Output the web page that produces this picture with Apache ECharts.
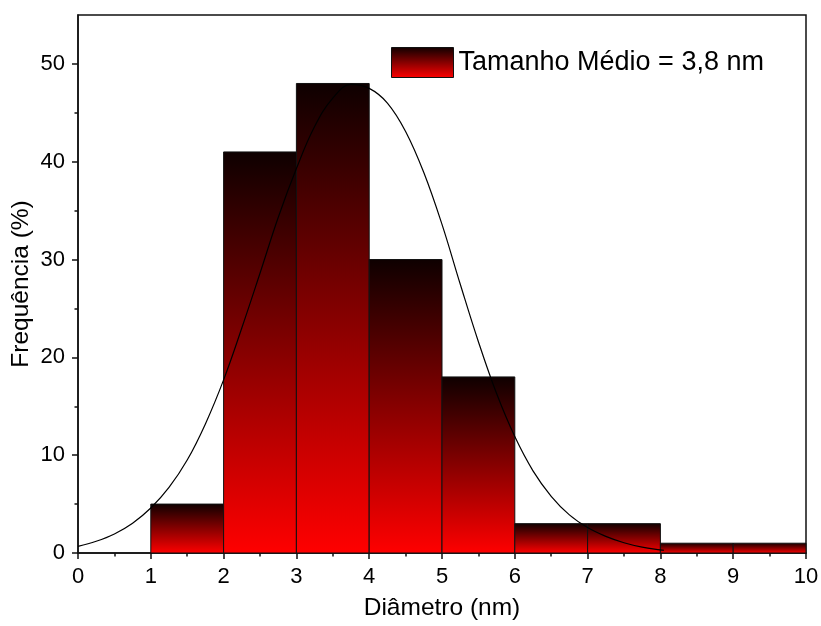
<!DOCTYPE html>
<html><head><meta charset="utf-8">
<script src="https://cdn.jsdelivr.net/npm/echarts@6/dist/echarts.min.js"></script>
<style>html,body{margin:0;padding:0;background:#fff}#c{width:821px;height:626px}</style>
</head><body><div id="c"></div>
<script>
// ---- data ----
const binStarts = [1, 2, 3, 4, 5, 6, 7, 8, 9];
const binEnds   = [2, 3, 4, 5, 6, 7, 8, 9, 10];
const frequencies = [5, 41, 48, 30, 18, 3, 3, 1, 1];
const fitX = [0, 0.25, 0.5, 0.75, 1, 1.25, 1.5, 1.75, 2, 2.25, 2.5, 2.75, 3, 3.25, 3.5, 3.75, 4, 4.25, 4.5, 4.75, 5, 5.25, 5.5, 5.75, 6, 6.25, 6.5, 6.75, 7, 7.25, 7.5, 7.75, 8, 8.05];
const fitY = [0.68, 1.2, 1.95, 3.05, 4.6, 6.7, 9.5, 13.2, 17.7, 23.0, 28.6, 34.3, 39.3, 43.6, 46.5, 47.9, 47.5, 46.0, 43.1, 38.9, 33.6, 27.5, 21.6, 16.3, 11.9, 8.4, 5.8, 3.9, 2.6, 1.7, 1.05, 0.6, 0.32, 0.28];
const yTickValues = [0, 10, 20, 30, 40, 50];
const yMinorTickValues = [5, 15, 25, 35, 45];
const legendLabel = 'Tamanho Médio = 3,8 nm';
const xTitle = 'Diâmetro (nm)';
const yTitle = 'Frequência (%)';

// ---- chart ----
const FONT = 'Arial, "Liberation Sans", sans-serif';
const makeGrad = () => new echarts.graphic.LinearGradient(0, 0, 0, 1, [
  { offset: 0, color: '#0e0000' },
  { offset: 1, color: '#ff0000' }
]);
const barData = binStarts.map((s, i) => [s, binEnds[i], frequencies[i]]);
const fitData = fitX.map((x, i) => [x, fitY[i]]);

const chart = echarts.init(document.getElementById('c'), null, { renderer: 'canvas' });
chart.setOption({
  animation: false,
  backgroundColor: '#fff',
  grid: { left: 78, right: 15, top: 15, bottom: 73, outerBoundsMode: 'none', containLabel: false, show: true, borderColor: '#111', borderWidth: 1.5, backgroundColor: 'transparent' },
  legend: {
    data: [legendLabel],
    left: 391, top: 47, padding: 0,
    itemWidth: 62, itemHeight: 30, icon: 'rect',
    itemStyle: { color: makeGrad(), borderColor: '#111', borderWidth: 1 },
    textStyle: { fontFamily: FONT, fontSize: 27, color: '#000' }
  },
  xAxis: {
    type: 'value', min: 0, max: 10, interval: 1,
    name: xTitle, nameLocation: 'middle', nameGap: 43, nameMoveOverlap: false,
    nameTextStyle: { fontFamily: FONT, fontSize: 24.5, color: '#000' },
    axisLine: { show: true, lineStyle: { color: '#111', width: 1.5 } },
    axisTick: { show: true, length: 6, lineStyle: { color: '#111', width: 1.5 } },
    minorTick: { show: true, splitNumber: 2, length: 3.5, lineStyle: { color: '#111', width: 1.5 } },
    axisLabel: { fontFamily: FONT, fontSize: 22, color: '#000', margin: 13 },
    splitLine: { show: false }, minorSplitLine: { show: false }
  },
  yAxis: [{
    type: 'value', min: 0, max: 55,
    name: yTitle, nameLocation: 'middle', nameGap: 44, nameMoveOverlap: false,
    nameTextStyle: { fontFamily: FONT, fontSize: 24.5, color: '#000' },
    axisLine: { show: true, lineStyle: { color: '#111', width: 1.5 } },
    axisTick: { show: true, length: 6, customValues: yTickValues, lineStyle: { color: '#111', width: 1.5 } },
    axisLabel: { fontFamily: FONT, fontSize: 22, color: '#000', margin: 13, customValues: yTickValues },
    splitLine: { show: false }
  }, {
    type: 'value', min: 0, max: 55, position: 'left', offset: 0,
    axisLine: { show: false },
    axisTick: { show: true, length: 3.5, customValues: yMinorTickValues, lineStyle: { color: '#111', width: 1.5 } },
    axisLabel: { show: false },
    splitLine: { show: false }
  }],
  series: [{
    name: legendLabel,
    type: 'custom',
    xAxisIndex: 0, yAxisIndex: 0,
    itemStyle: { color: makeGrad() },
    encode: { x: [0, 1], y: 2 },
    data: barData,
    renderItem: function (params, api) {
      const x0 = api.value(0), x1 = api.value(1), y = api.value(2);
      const p0 = api.coord([x0, y]);
      const p1 = api.coord([x1, 0]);
      return {
        type: 'rect',
        shape: { x: p0[0], y: p0[1], width: p1[0] - p0[0], height: p1[1] - p0[1] },
        style: { fill: makeGrad(), stroke: '#111', lineWidth: 1 }
      };
    },
    z: 2
  }, {
    name: 'fit',
    type: 'line',
    xAxisIndex: 0, yAxisIndex: 0,
    data: fitData,
    smooth: 0.4,
    showSymbol: false,
    lineStyle: { color: '#000', width: 1.2 },
    z: 3
  }]
});
</script>
</body></html>
